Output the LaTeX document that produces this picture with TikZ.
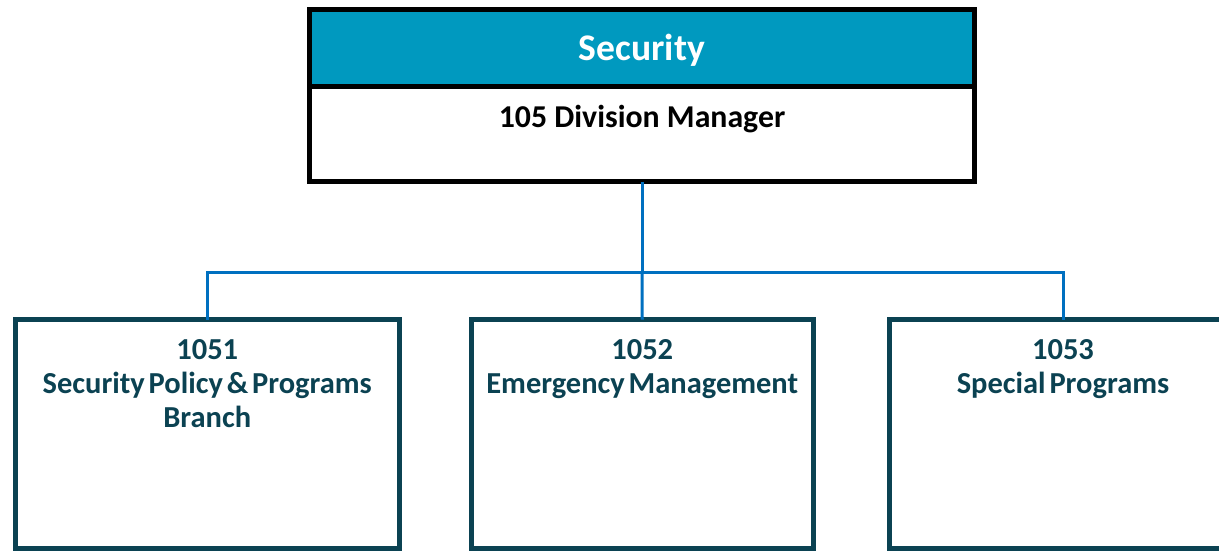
\documentclass[tikz,border=0pt]{standalone}
\usepackage{fontspec}
\setmainfont{Carlito}
\newfontfamily\tightfont{Carlito}[WordSpace=0.55]
\definecolor{hdrcol}{HTML}{0099BF}
\definecolor{darkcol}{HTML}{0B4252}
\definecolor{conncol}{HTML}{0070C0}
\begin{document}
\begin{tikzpicture}[x=1pt,y=-1pt,
  topbox/.style={draw=black,line width=5pt,minimum width=665pt,inner sep=0pt,outer sep=0pt},
  subbox/.style={draw=darkcol,line width=5pt,fill=white,minimum height=228.5pt,inner sep=0pt,outer sep=0pt},
  subtext/.style={font=\tightfont\bfseries\fontsize{30.5}{34}\selectfont,text=darkcol,align=center,inner sep=0pt},
  conn/.style={draw=conncol,line width=3pt}]
\useasboundingbox (0,0) rectangle (1219,550);
\node[topbox,fill=hdrcol,minimum height=76.5pt] (hdr) at (642,47.75) {};
\node[topbox,fill=white,minimum height=95.5pt] (mgr) at (642,133.75) {};
\coordinate (bus) at (642,272);
\node[subbox,minimum width=383.5pt] (b1) at (207.25,319.5) [anchor=north] {};
\node[subbox,minimum width=341.5pt] (b2) at (642.25,319.5) [anchor=north] {};
\node[subbox,minimum width=347pt] (b3) at (1063,319.5) [anchor=north] {};
\draw[conn] (mgr.south) -- (bus);
\draw[conn] (bus) -| (b1.north);
\draw[conn] (bus) -| (b3.north);
\draw[conn] (bus) -- (b2.north);
\node[font=\bfseries\fontsize{37.6}{40}\selectfont,text=white,anchor=base,inner sep=0pt] (t0) at (642,60) {Security};
\node[font=\bfseries\fontsize{31.8}{36}\selectfont,text=black,anchor=base,inner sep=0pt] (tm) at (642,127) {105 Division Manager};
\node[subtext,anchor=north] (t1) at (b1.north |- 0,339.5) {1051\\Security Policy \& Programs\\Branch};
\node[subtext,anchor=north] (t2) at (b2.north |- 0,339.5) {1052\\Emergency Management};
\node[subtext,anchor=north] (t3) at (b3.north |- 0,339.5) {1053\\Special Programs};
\end{tikzpicture}
\end{document}
